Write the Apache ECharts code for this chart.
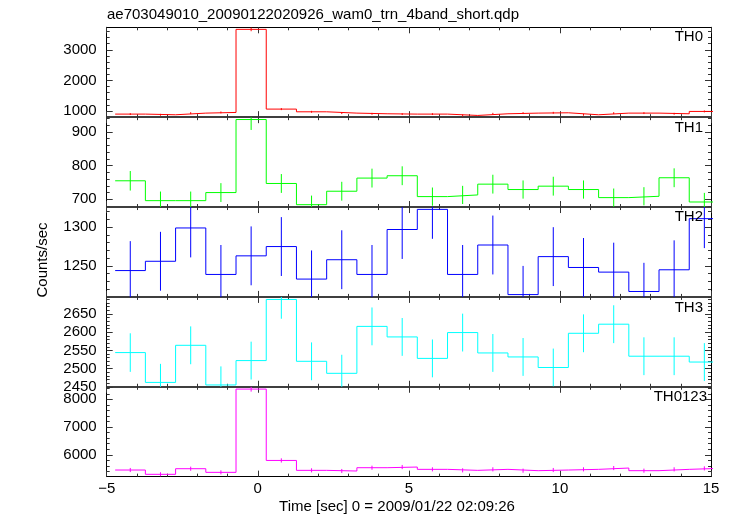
<!DOCTYPE html>
<html><head><meta charset="utf-8">
<script src="https://cdn.jsdelivr.net/npm/echarts@6/dist/echarts.min.js"></script>
<style>html,body{margin:0;padding:0;background:#fff}#c{width:733px;height:516px}</style>
</head><body><div id="c"></div>
<script>
// ---- data ----
const times = [-4.22,-3.22,-2.22,-1.22,-0.22,0.78,1.78,2.78,3.78,4.78,5.78,6.78,7.78,8.78,9.78,10.78,11.78,12.78,13.78,14.78];
const binWidth = 1.0;
const th0 = [903,881,935,957,3667,1066,978,935,914,903,903,859,914,935,946,881,935,935,914,990];
const th0Err = [30,30,31,31,61,33,31,31,30,30,30,29,30,31,31,30,31,31,30,31];
const th1 = [755,696,696,720,937,747,684,724,763,770,708,713,745,729,739,729,705,709,764,692];
const th1Err = [29,27,27,28,31,28,27,28,28,28,27,27,28,27,28,27,27,27,28,27];
const th2 = [1244,1256,1299,1239,1263,1275,1233,1258,1239,1297,1323,1239,1277,1213,1262,1248,1242,1217,1245,1311];
const th2Err = [38,38,38,38,38,38,37,38,38,38,38,38,38,37,38,38,38,37,38,38];
const th3 = [2544,2462,2564,2455,2522,2690,2520,2487,2616,2587,2528,2599,2543,2532,2503,2597,2622,2534,2534,2518];
const th3Err = [53,51,52,51,52,53,52,51,52,52,52,52,52,52,52,52,52,52,52,52];
const th0123 = [5453,5298,5500,5369,8369,5798,5441,5417,5536,5560,5477,5441,5477,5429,5453,5477,5524,5429,5477,5512];
const th0123Err = [74,73,74,73,92,76,74,74,74,75,74,74,74,74,74,74,74,74,74,74];

const panelNames = ['TH0','TH1','TH2','TH3','TH0123'];
const yTicks = [[1000,2000,3000],[700,800,900],[1250,1300],[2450,2500,2550,2600,2650],[6000,7000,8000]];
const yMinorStep = [200,20,10,10,200];
const yRanges = [[803,3734],[677,944],[1210,1326],[2450,2697],[5214,8452]];
const titleText = 'ae703049010_20090122020926_wam0_trn_4band_short.qdp';
const xLabel = 'Time [sec] 0 = 2009/01/22 02:09:26';
const yLabel = 'Counts/sec';

// ---- layout / style ----
const colors = ['#ff0000','#00ff00','#0000ff','#00ffff','#ff00ff'];
const FONT = 'Liberation Sans, Arial, Helvetica, sans-serif';
const T0 = 27.3, H = 89.87, L = 106.7, R = 22;
const series_ = [[th0,th0Err],[th1,th1Err],[th2,th2Err],[th3,th3Err],[th0123,th0123Err]];

function minorTicks(rng, step){
  const out=[]; let v=Math.ceil(rng[0]/step)*step;
  for(; v<=rng[1]+1e-9; v+=step) out.push(v);
  return out;
}

const grids=[], xAxes=[], yAxes=[], series=[];
for(let i=0;i<5;i++){
  grids.push({left:L, right:R, top:T0+i*H, height:H, containLabel:false});
  const innerBottom = i<4, innerTop = i>0;
  ['bottom','top'].forEach(pos=>{
    const inner = pos==='bottom'?innerBottom:innerTop;
    xAxes.push({
      gridIndex:i, type:'value', position:pos, min:-5, max:15, interval:5,
      axisLine:{show:true, onZero:false, lineStyle:{color: inner?'#333':'#000', width: inner?1.6:1}},
      axisTick:{show:true, inside:true, length:6, lineStyle:{color:'#333'}},
      minorTick:{show:true, splitNumber:5, length:3, lineStyle:{color:'#333'}},
      axisLabel:{show: (i===4 && pos==='bottom'), margin:5, color:'#000', fontSize:15, fontFamily:FONT,
        formatter: v=> String(v).replace('-','\u2212')},
      splitLine:{show:false}, minorSplitLine:{show:false}
    });
  });
  const rng = yRanges[i];
  ['left','right'].forEach(pos=>{
    yAxes.push({
      gridIndex:i, type:'value', position:pos, min:rng[0], max:rng[1],
      axisLine:{show:true, onZero:false, lineStyle:{color:'#000', width:1}},
      axisTick:{show:true, inside:true, length:6, customValues:yTicks[i], lineStyle:{color:'#333'}},
      axisLabel:{show: pos==='left', margin:10, color:'#000', fontSize:15, fontFamily:FONT, customValues:yTicks[i],
        showMinLabel:true, showMaxLabel:true, formatter: v=>String(v)},
      splitLine:{show:false}
    });
    yAxes.push({
      gridIndex:i, type:'value', position:pos, min:rng[0], max:rng[1],
      axisLine:{show:false, onZero:false},
      axisTick:{show:true, inside:true, length:3, customValues:minorTicks(rng, yMinorStep[i]), lineStyle:{color:'#333'}},
      axisLabel:{show:false},
      splitLine:{show:false}
    });
  });
  const vals = series_[i][0], errs = series_[i][1];
  const stepData=[];
  times.forEach((t,k)=>{ stepData.push([t-binWidth/2, vals[k]]); stepData.push([t+binWidth/2, vals[k]]); });
  series.push({
    type:'line', xAxisIndex:2*i, yAxisIndex:4*i, data:stepData, showSymbol:false, symbol:'none',
    lineStyle:{color:colors[i], width:1}, clip:true, animation:false, silent:true
  });
  series.push({
    type:'custom', xAxisIndex:2*i, yAxisIndex:4*i, clip:true, animation:false, silent:true,
    data: times.map((t,k)=>[t, vals[k], errs[k]]),
    renderItem:(params, api)=>{
      const x=api.value(0), y=api.value(1), e=api.value(2);
      const p1=api.coord([x,y-e]), p2=api.coord([x,y+e]);
      return {type:'line', shape:{x1:p1[0],y1:p1[1],x2:p2[0],y2:p2[1]}, style:{stroke:colors[i], lineWidth:1}};
    }
  });
}

const labelX = [703,703,703,703,707];
const labelY = [36.7,128.3,216.7,308.3,396.7];
const graphics = [
  {type:'text', left:107, top:7, style:{text:titleText, font:'15px '+FONT, fill:'#000'}},
  {type:'text', x:397, y:506.7, style:{text:xLabel, font:'15px '+FONT, fill:'#000', textAlign:'center', textVerticalAlign:'middle'}},
  {type:'text', x:43, y:260, rotation:Math.PI/2, style:{text:yLabel, font:'15px '+FONT, fill:'#000', textAlign:'center', textVerticalAlign:'middle'}}
];
panelNames.forEach((n,i)=>graphics.push({type:'text', x:labelX[i], y:labelY[i], z:100,
  style:{text:n, font:'15px '+FONT, fill:'#000', textAlign:'right', textVerticalAlign:'middle'}}));

const chart = echarts.init(document.getElementById('c'), null, {renderer:'canvas'});
chart.setOption({
  animation:false, backgroundColor:'#fff',
  grid:grids, xAxis:xAxes, yAxis:yAxes, series:series, graphic:graphics
});
</script></body></html>
